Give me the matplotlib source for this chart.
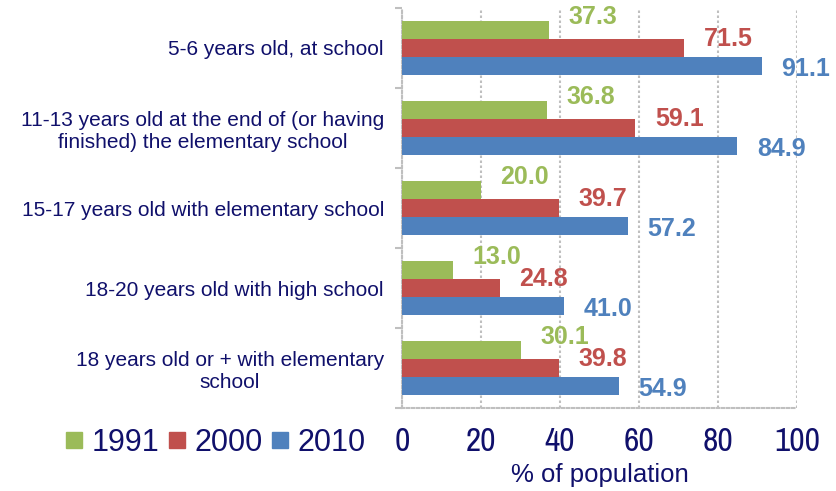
import matplotlib
matplotlib.use("Agg")
import matplotlib.pyplot as plt
from matplotlib import font_manager
from matplotlib.lines import Line2D
import numpy as np

# Datos
categorias = [
    "5-6 years old, at school",
    "11-13 years old at the end of (or having\nfinished) the elementary school",
    "15-17 years old with elementary school",
    "18-20 years old with high school",
    "18 years old or + with elementary\nschool",
]
series = ["1991", "2000", "2010"]
valores_1991 = [37.3, 36.8, 20.0, 13.0, 30.1]
valores_2000 = [71.5, 59.1, 39.7, 24.8, 39.8]
valores_2010 = [91.1, 84.9, 57.2, 41.0, 54.9]
ticks_x = [0, 20, 40, 60, 80, 100]

colores = ["#9BBB59", "#C0504D", "#4F81BD"]
azul_texto = "#10106B"
gris = "#BFBFBF"

nombres = {f.name for f in font_manager.fontManager.ttflist}
fuente = "Liberation Sans" if "Liberation Sans" in nombres else "DejaVu Sans"
fuente_estrecha = "Archivo Narrow" if "Archivo Narrow" in nombres else fuente

fig = plt.figure(figsize=(8.36, 4.91), dpi=100)
ax = fig.add_axes([402 / 836, 1 - 408 / 491, 395 / 836, 400 / 491])

y = np.arange(len(categorias))
h = 0.225
desp_y = [9, 6.5, -2.5]  # desplazamiento vertical de las etiquetas (pt)

for i, (vals, col) in enumerate(zip([valores_1991, valores_2000, valores_2010], colores)):
    pos = y + (i - 1) * h
    ax.barh(pos, vals, height=h, color=col, zorder=3)
    for p, v in zip(pos, vals):
        ax.annotate(f"{v:.1f}", xy=(v, p), xytext=(14, desp_y[i]),
                    textcoords="offset points", ha="left", va="center",
                    fontsize=18, fontweight="bold", color=col, family=fuente)

ax.set_xlim(0, 100)
ax.set_ylim(len(categorias) - 0.5, -0.5)
ax.set_xticks(ticks_x)
ax.set_xticklabels([str(t) for t in ticks_x], family=fuente_estrecha, fontsize=24,
                   color=azul_texto)
ax.tick_params(axis="x", length=0, pad=14)

ax.set_yticks(y)
ax.set_yticklabels(categorias, family=fuente, fontsize=15, color=azul_texto,
                   multialignment="center")
ax.tick_params(axis="y", length=0, pad=13)
ax.set_yticks(np.arange(-0.5, len(categorias), 1), minor=True)
ax.tick_params(axis="y", which="minor", length=5, width=1.5, color=gris)

ax.grid(axis="x", color=gris, linestyle=(0, (1.2, 1.2)), linewidth=1.5, zorder=0)
for lado in ["top", "right"]:
    ax.spines[lado].set_visible(False)
for lado in ["left", "bottom"]:
    ax.spines[lado].set_color(gris)
    ax.spines[lado].set_linestyle((0, (1.2, 1.2)))
    ax.spines[lado].set_linewidth(1.5)

ax.set_xlabel("% of population", family=fuente, fontsize=18.5,
              color=azul_texto, labelpad=4)

manejadores = [Line2D([], [], marker="s", linestyle="", markersize=11.5,
                      markerfacecolor=c, markeredgecolor=c) for c in colores]
fig.legend(manejadores, series, loc="center left", bbox_to_anchor=(38 / 836, 1 - 443 / 491),
           ncol=3, frameon=False, handlelength=0.55, handletextpad=0.3,
           columnspacing=0.3, prop={"family": fuente, "size": 22},
           labelcolor=azul_texto)

fig.savefig("out.png", dpi=100)
plt.close(fig)
